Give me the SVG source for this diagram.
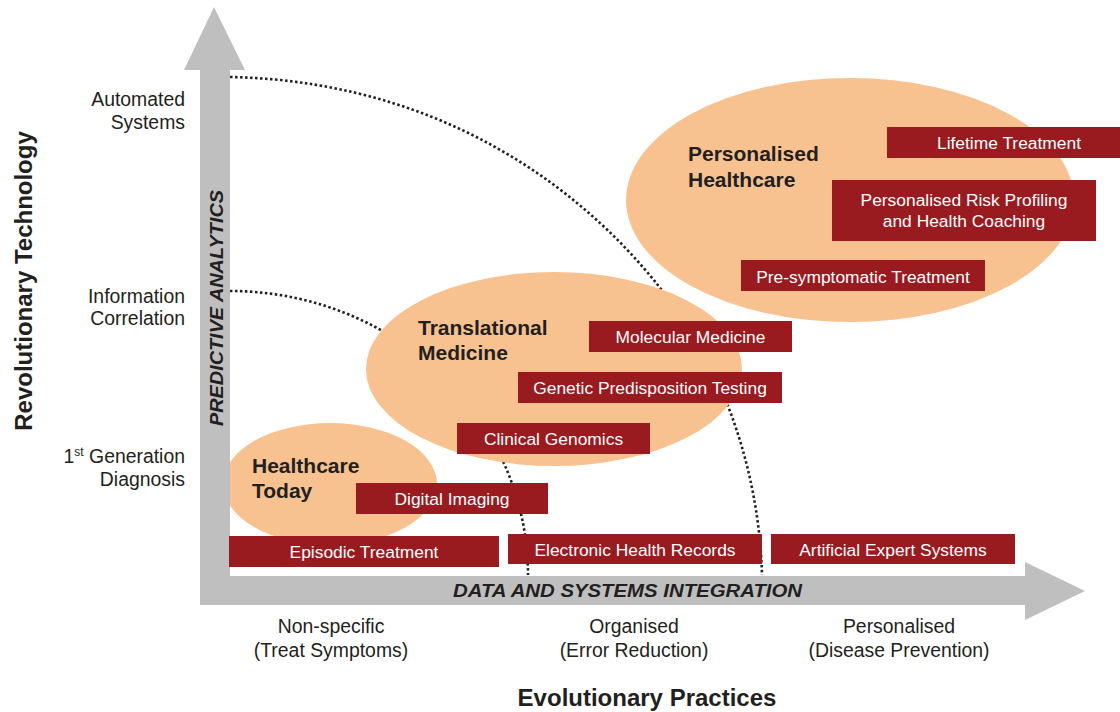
<svg xmlns="http://www.w3.org/2000/svg" width="1120" height="712" viewBox="0 0 1120 712">
<style>
.ell{fill:#f8c290}
.box{fill:#991b1f}
.bt{font-family:"Liberation Sans",Arial,sans-serif;font-size:17.4px;fill:#ffffff;text-anchor:middle}
.title{font-family:"Liberation Sans",Arial,sans-serif;font-size:21px;font-weight:bold;fill:#231f20}
.tick{font-family:"Liberation Sans",Arial,sans-serif;font-size:19.4px;fill:#231f20}
.axis{font-family:"Liberation Sans",Arial,sans-serif;font-size:24px;font-weight:bold;fill:#231f20;text-anchor:middle}
.ax2{font-family:"Liberation Sans",Arial,sans-serif;font-weight:bold;font-style:italic;fill:#231f20;text-anchor:middle}
.dot{fill:none;stroke:#231f20;stroke-width:2.6;stroke-dasharray:2.5 2.5}
.arrow{fill:#bfbfbf}
</style>
<rect width="1120" height="712" fill="#ffffff"/>
<g id="connectors">
<path class="dot" d="M230,77 C470,82 620,220 690,330 C740,410 760,500 762,575"/>
<path class="dot" d="M230,291 A298,284 0 0 1 528,575"/>
</g>
<g id="healthcare-today"><ellipse class="ell" cx="330" cy="484" rx="107" ry="61"/></g>
<g id="translational-medicine"><ellipse class="ell" cx="554" cy="369" rx="188" ry="97"/></g>
<g id="personalised-healthcare"><ellipse class="ell" cx="850" cy="200" rx="224" ry="122"/></g>
<g id="axes">
<path class="arrow" d="M200,70 L184,70 L214,7 L245,70 L230,70 L230,576 L1025,576 L1025,562 L1085,591 L1025,620 L1025,605 L200,605 Z"/>
<text class="ax2" font-size="19" transform="translate(223,308) rotate(-90)" textLength="236" lengthAdjust="spacingAndGlyphs">PREDICTIVE ANALYTICS</text>
<text class="ax2" font-size="18" x="627.5" y="597" textLength="349" lengthAdjust="spacingAndGlyphs">DATA AND SYSTEMS INTEGRATION</text>
</g>
<g id="titles">
<text class="title" x="252" y="473">Healthcare</text>
<text class="title" x="252" y="498">Today</text>
<text class="title" x="418" y="335">Translational</text>
<text class="title" x="418" y="360">Medicine</text>
<text class="title" x="688" y="161">Personalised</text>
<text class="title" x="688" y="187">Healthcare</text>
</g>
<g id="episodic-treatment"><rect class="box" x="229" y="536" width="270" height="31"/><text class="bt" x="364" y="558">Episodic Treatment</text></g>
<g id="electronic-health-records"><rect class="box" x="508" y="534" width="254" height="30"/><text class="bt" x="635" y="556">Electronic Health Records</text></g>
<g id="artificial-expert-systems"><rect class="box" x="771" y="534" width="244" height="30"/><text class="bt" x="893" y="556">Artificial Expert Systems</text></g>
<g id="digital-imaging"><rect class="box" x="356" y="483" width="192" height="31"/><text class="bt" x="452" y="505">Digital Imaging</text></g>
<g id="clinical-genomics"><rect class="box" x="457" y="423" width="193" height="31"/><text class="bt" x="553.5" y="445">Clinical Genomics</text></g>
<g id="genetic-predisposition-testing"><rect class="box" x="518" y="372" width="264" height="31"/><text class="bt" x="650" y="394">Genetic Predisposition Testing</text></g>
<g id="molecular-medicine"><rect class="box" x="589" y="321" width="203" height="31"/><text class="bt" x="690.5" y="343">Molecular Medicine</text></g>
<g id="pre-symptomatic-treatment"><rect class="box" x="741" y="260" width="244" height="31"/><text class="bt" x="863" y="283">Pre-symptomatic Treatment</text></g>
<g id="personalised-risk-profiling"><rect class="box" x="832" y="180" width="264" height="61"/><text class="bt" x="964" y="206">Personalised Risk Profiling</text><text class="bt" x="964" y="227">and Health Coaching</text></g>
<g id="lifetime-treatment"><rect class="box" x="887" y="127" width="233" height="31"/><text class="bt" x="1009" y="149">Lifetime Treatment</text></g>
<g id="y-labels" class="tick" text-anchor="end">
<text x="185" y="106">Automated</text>
<text x="185" y="129">Systems</text>
<text x="185" y="303">Information</text>
<text x="185" y="325">Correlation</text>
<text x="185" y="463">1<tspan font-size="12" dy="-7">st</tspan><tspan dy="7"> Generation</tspan></text>
<text x="185" y="486">Diagnosis</text>
</g>
<g id="x-labels" class="tick" text-anchor="middle">
<text x="331" y="633">Non-specific</text>
<text x="331" y="657">(Treat Symptoms)</text>
<text x="634" y="633">Organised</text>
<text x="634" y="657">(Error Reduction)</text>
<text x="899" y="633">Personalised</text>
<text x="899" y="657">(Disease Prevention)</text>
</g>
<text class="axis" transform="translate(32,281) rotate(-90)">Revolutionary Technology</text>
<text class="axis" x="647" y="706">Evolutionary Practices</text>
</svg>
